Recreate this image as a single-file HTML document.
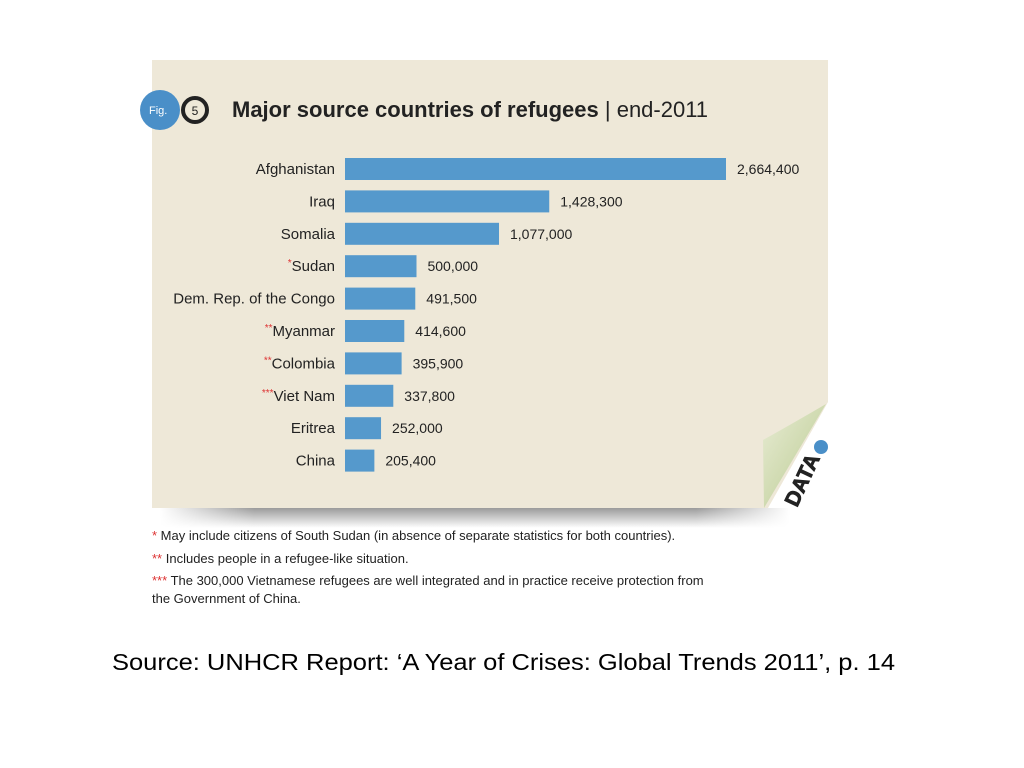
<!DOCTYPE html>
<html><head><meta charset="utf-8"><style>
body{margin:0;background:#fff;width:1024px;height:768px;overflow:hidden;font-family:"Liberation Sans",sans-serif}
</style></head><body>
<svg width="1024" height="768" style="position:absolute;left:0;top:0">
<defs>
<linearGradient id="sh" x1="0" y1="0" x2="0" y2="1"><stop offset="0" stop-color="#9a9a9a"/><stop offset="1" stop-color="#fff"/></linearGradient>
<linearGradient id="shx" x1="0" y1="0" x2="1" y2="0"><stop offset="0" stop-color="#fff" stop-opacity="1"/><stop offset="0.15" stop-color="#fff" stop-opacity="0"/><stop offset="0.85" stop-color="#fff" stop-opacity="0"/><stop offset="1" stop-color="#fff" stop-opacity="1"/></linearGradient>
<linearGradient id="curl" x1="0" y1="0" x2="1" y2="1"><stop offset="0" stop-color="#e8ecd4"/><stop offset="1" stop-color="#b8c98e"/></linearGradient>
</defs>
<rect x="160" y="508" width="630" height="20" fill="url(#sh)"/>
<rect x="160" y="508" width="630" height="20" fill="url(#shx)"/>
<path d="M152,60 H828 V402 L768,508 H152 Z" fill="#eee8d8"/>
<path d="M826,404 L764,508 L763,440 Q790,425 826,404 Z" fill="url(#curl)"/>
<text x="0" y="0" transform="translate(797,508) rotate(-65)" font-size="21" font-weight="bold" fill="#222" stroke="#222" stroke-width="0.8" font-family="Liberation Sans,sans-serif">DATA</text>
<circle cx="821" cy="447" r="7" fill="#4a8fc8"/>
<circle cx="160" cy="110" r="20" fill="#4a8fc8"/>
<text x="149" y="114" font-size="11" fill="#fff">Fig.</text>
<circle cx="195" cy="110" r="12" fill="none" stroke="#222" stroke-width="4"/>
<text x="195" y="115" font-size="12" text-anchor="middle" fill="#222">5</text>
<text x="232" y="117" font-size="22" font-weight="bold" fill="#222">Major source countries of refugees <tspan font-weight="normal">| end-2011</tspan></text>
<g id="bars"></g>
<g font-size="13" fill="#222">
<text x="152" y="540"><tspan fill="#d33">*</tspan> May include citizens of South Sudan (in absence of separate statistics for both countries).</text>
<text x="152" y="563"><tspan fill="#d33">**</tspan> Includes people in a refugee-like situation.</text>
<text x="152" y="585"><tspan fill="#d33">***</tspan> The 300,000 Vietnamese refugees are well integrated and in practice receive protection from</text>
<text x="152" y="603">the Government of China.</text>
</g>
<text x="112" y="670" font-size="23" textLength="783" lengthAdjust="spacingAndGlyphs" fill="#000">Source: UNHCR Report: ‘A Year of Crises: Global Trends 2011’, p. 14</text>
</svg>
<script>
const countries=["Afghanistan","Iraq","Somalia","Sudan","Dem. Rep. of the Congo","Myanmar","Colombia","Viet Nam","Eritrea","China"];
const marks=["","","","*","","**","**","***","",""];
const values=[2664400,1428300,1077000,500000,491500,414600,395900,337800,252000,205400];
const labels=["2,664,400","1,428,300","1,077,000","500,000","491,500","414,600","395,900","337,800","252,000","205,400"];
const NS="http://www.w3.org/2000/svg";
const x0=345,xw=381,maxV=2664400;
const xs=v=>x0+v/maxV*xw;
const ys=i=>169+i*32.4;
const g=document.getElementById('bars');
countries.forEach((c,i)=>{
  const y=ys(i);
  const r=document.createElementNS(NS,'rect');
  r.setAttribute('x',x0);r.setAttribute('y',y-11);r.setAttribute('width',xs(values[i])-x0);r.setAttribute('height',22);r.setAttribute('fill','#5599cc');
  
  
  g.appendChild(r);
  const t=document.createElementNS(NS,'text');
  t.setAttribute('x',335);t.setAttribute('y',y+5);t.setAttribute('text-anchor','end');t.setAttribute('font-size','15');t.setAttribute('fill','#222');
  if(marks[i]){const s=document.createElementNS(NS,'tspan');s.setAttribute('fill','#d33');s.setAttribute('font-size','10');s.setAttribute('dy','-5');s.textContent=marks[i];t.appendChild(s);const s2=document.createElementNS(NS,'tspan');s2.setAttribute('dy','5');s2.textContent=c;t.appendChild(s2);}
  else t.textContent=c;
  
  
  g.appendChild(t);
  const v=document.createElementNS(NS,'text');
  v.setAttribute('x',xs(values[i])+11);v.setAttribute('y',y+5);v.setAttribute('font-size','14');v.setAttribute('fill','#222');
  v.textContent=labels[i];
  
  
  g.appendChild(v);
});
</script>
</body></html>
